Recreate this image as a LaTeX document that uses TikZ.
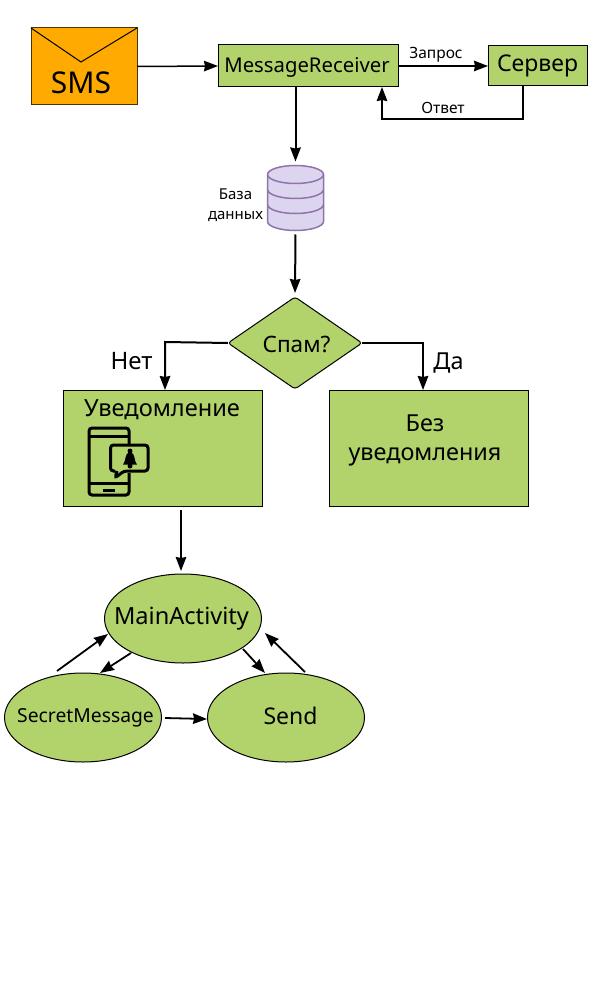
\documentclass[tikz,border=0pt]{standalone}
\usepackage{fontspec}
\setmainfont{Noto Sans}
\usetikzlibrary{arrows.meta,shapes.geometric}
\definecolor{zelen}{HTML}{B2D36B}
\definecolor{oranzh}{HTML}{FFAA00}
\definecolor{lilac}{HTML}{DDD5F0}
\definecolor{lilacline}{HTML}{8F74A8}
\newcommand{\fsz}[1]{\fontsize{#1}{#1}\selectfont}
\tikzset{
  block/.style={draw,fill=zelen,line width=1pt,inner sep=0pt,outer sep=0pt},
  oval/.style={block,ellipse,minimum width=157pt,minimum height=89pt},
  txt/.style={inner sep=0pt,outer sep=0pt},
}
\begin{document}
\begin{tikzpicture}[x=1pt,y=-1pt,>={Stealth[length=14pt,width=10.5pt,inset=1pt]}]
\def\strelka#1#2#3{\draw[->,line width=1.8pt,#3] (#1) -- (#2);}
\useasboundingbox (0,0) rectangle (600,1000);

% top row
\node[block,fill=oranzh,line width=1pt,draw=black!70!oranzh,minimum width=106pt,minimum height=77pt] at (84,66.5) (sms) {};
\coordinate (flap) at (81,62);
\draw[line width=1pt] (sms.north west) -- (flap) -- (sms.north east);
\node[txt,font=\fsz{30}] at (81,83) (smstext) {SMS};
\node[block,minimum width=180pt,minimum height=42pt] at (308,66) (recv) {};
\node[txt,font=\fsz{20.3}] at (307,67.5) (recvtext) {MessageReceiver};
\node[block,minimum width=99pt,minimum height=40pt,font=\fsz{23}] at (537.5,66) (server) {Сервер};

\strelka{sms.east}{recv.west}{line width=1.5pt}
\strelka{recv.east}{server.west}{line width=1.5pt}
\node[txt,font=\fsz{15.5}] at (436,55) (zapros) {Запрос};
\coordinate (otvetturn) at (523,119);
\draw[->,line width=2pt] (otvetturn |- server.south) -- (otvetturn) -- (382,119) -- (382,87);
\node[txt,font=\fsz{15.5}] at (443,108) (otvet) {Ответ};

% database
\node[inner sep=0pt,outer sep=0pt,minimum width=56pt,minimum height=65pt] at (295.5,198) (db) {};
\draw[lilacline,fill=lilac,line width=1.5pt] (db.west |- 0,174.5) arc[x radius=28,y radius=9,start angle=180,end angle=360] -- ++(0,47) arc[x radius=28,y radius=9,start angle=0,end angle=180] -- cycle;
\foreach \ypos in {174.5,189.5,204.5}
  \draw[lilacline,line width=1.5pt] (db.west |- 0,\ypos) arc[x radius=28,y radius=9,start angle=180,end angle=0];
\node[txt,font=\fsz{15},align=center] at (235.5,205) (dbtext) {База\\[5pt]данных};

\node[block,diamond,rounded corners=3pt,minimum width=134pt,minimum height=92pt,aspect=1.46] at (295,343) (spam) {};
\node[txt,font=\fsz{22.6}] at (296.5,344) (spamtext) {Спам?};
\node[block,minimum width=199pt,minimum height=116pt] at (162.5,448) (notify) {};
\node[txt,font=\fsz{23.6}] at (162,410) (notifytext) {Уведомление};
\node[block,minimum width=199pt,minimum height=116pt] at (429,448) (noalert) {};
\node[txt,font=\fsz{23.4},align=center] at (425,440.5) (noalerttext) {Без\\[5pt]уведомления};

\strelka{db.north |- recv.south}{db.north}{line width=2pt,shorten >=4pt}
\strelka{db.south}{spam.north}{line width=2pt,shorten <=4pt,shorten >=4pt}
\coordinate (nettop) at (165,342);
\coordinate (datop) at (423,343);
\draw[->,line width=2pt] (spam.west) -- (nettop) -- (nettop |- notify.north);
\draw[->,line width=2pt] (spam.east) -- (datop) -- (datop |- noalert.north);
\node[txt,font=\fsz{24}] at (131.5,361) (net) {Нет};
\node[txt,font=\fsz{23.4}] at (448.5,363) (da) {Да};

% phone icon
\draw[line width=3pt,rounded corners=3pt] (129,444) -- (129,428) -- (89,428) -- (89,495) -- (129,495) -- (129,473);
\draw[line width=3pt] (89,436) -- (129,436) (89,483) -- (129,483);
\draw[line width=3pt] (103,490) -- (115,490);
\draw[line width=3pt,rounded corners=3pt] (115,471) -- (110.5,471) -- (110.5,445) -- (148,445) -- (148,471) -- (124,471) -- (115,478) -- (117,471);
\fill (130,451) circle (2.5pt);
\fill (123,464.5) .. controls (126.5,461) and (124,453) .. (130,452) .. controls (136,453) and (133.5,461) .. (137,464.5) -- cycle;
\fill (130,466) circle (2.5pt);

% lower ovals
\node[oval] at (183,618.5) (mainact) {};
\node[txt,font=\fsz{23.6}] at (181.5,618.5) (mainacttext) {MainActivity};
\node[oval] at (83,717.5) (secret) {};
\node[txt,font=\fsz{19.3}] at (85.5,718) (secrettext) {SecretMessage};
\node[oval] at (286,717.5) (send) {};
\node[txt,font=\fsz{23}] at (290.5,716) (sendtext) {Send};

\coordinate (a1) at (57,671);  \coordinate (b1) at (108,634);
\coordinate (a2) at (131,653); \coordinate (b2) at (100,673);
\coordinate (a3) at (243,649); \coordinate (b3) at (265,673);
\coordinate (a4) at (305,672); \coordinate (b4) at (265,633);
\coordinate (a5) at (165,718); \coordinate (b5) at (207,719);
\coordinate (a6) at (181,510);
\strelka{a6}{a6 |- mainact.north}{shorten >=3pt}
\strelka{a1}{b1}{}
\strelka{a2}{b2}{}
\strelka{a3}{b3}{}
\strelka{a4}{b4}{}
\strelka{a5}{b5}{}
\end{tikzpicture}
\end{document}
